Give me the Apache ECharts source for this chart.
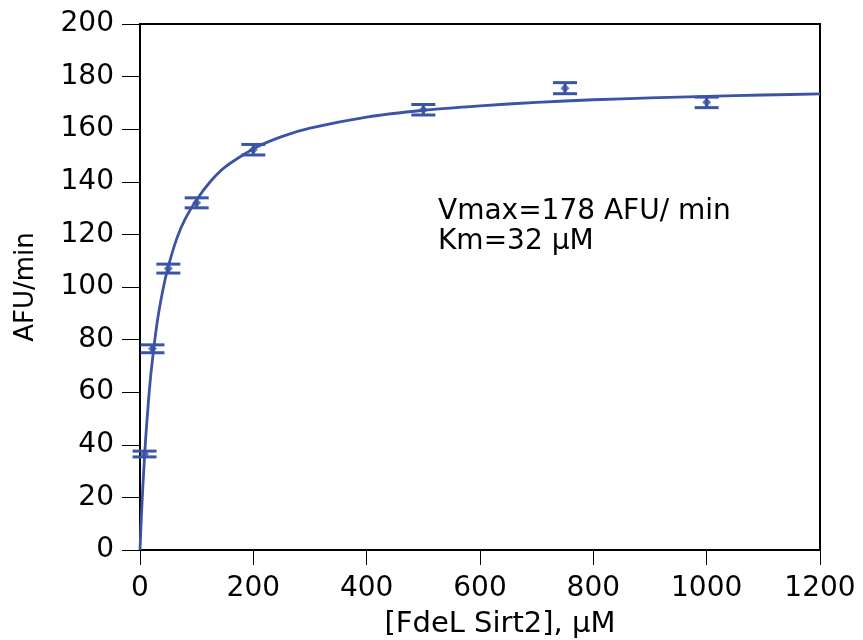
<!DOCTYPE html>
<html>
<head>
<meta charset="utf-8">
<script src="https://cdn.jsdelivr.net/npm/echarts@6/dist/echarts.min.js"></script>
<style>html,body{margin:0;padding:0;background:#fff;}#c{width:863px;height:640px;}</style>
</head>
<body>
<div id="c"></div>
<script>
// Measured points
const concentrations = [8, 22, 50, 100, 200, 500, 750, 1000];
const rates = [36.5, 76.5, 107, 132, 152.2, 167.4, 175.6, 170.2];
const errors = [1.1, 1.5, 1.7, 1.9, 2.0, 2.0, 2.1, 2.0];
// Fitted curve
const fitX = [0, 2, 5, 10, 15, 20, 30, 40, 50, 65, 80, 100, 125, 150, 200, 250, 300, 400, 500, 600, 700, 800, 900, 1000, 1100, 1200];
const fitY = [0, 10.5, 24.1, 42.4, 56.8, 68.5, 86.1, 98.5, 107.8, 118.5, 126.0, 133.2, 140.3, 145.6, 152.6, 157.2, 160.4, 164.6, 167.2, 168.9, 170.2, 171.2, 171.9, 172.5, 173.0, 173.4];
// Axis ticks
const xTicks = [0, 200, 400, 600, 800, 1000, 1200];
const yTicks = [0, 20, 40, 60, 80, 100, 120, 140, 160, 180, 200];
const annotation = ['Vmax=178 AFU/ min', 'Km=32 µM'];

const blue = '#3b54a5';
const font = 'DejaVu Sans, Liberation Sans, Arial, sans-serif';

const chart = echarts.init(document.getElementById('c'), null, {renderer: 'canvas'});
chart.setOption({
  animation: false,
  backgroundColor: '#fff',
  grid: {left: 140, right: 43, top: 24, bottom: 90, containLabel: false, outerBoundsMode: 'none', show: true, borderColor: '#000', borderWidth: 2, backgroundColor: 'transparent'},
  xAxis: {
    type: 'value', min: xTicks[0], max: xTicks[xTicks.length - 1], interval: xTicks[1] - xTicks[0],
    name: '[FdeL Sirt2], µM', nameLocation: 'middle', nameGap: 60,
    nameTextStyle: {fontFamily: font, fontSize: 29, color: '#000', padding: [0, 0, 0, 40]},
    axisLine: {lineStyle: {color: '#000', width: 2}},
    axisTick: {show: true, inside: false, length: 15, lineStyle: {color: '#000', width: 1}},
    axisLabel: {fontFamily: font, fontSize: 28, color: '#000', margin: 25, formatter: v => String(v)},
    splitLine: {show: false}
  },
  yAxis: {
    type: 'value', min: yTicks[0], max: yTicks[yTicks.length - 1], interval: yTicks[1] - yTicks[0],
    name: 'AFU/min', nameLocation: 'middle', nameGap: 101, nameRotate: 90,
    nameTextStyle: {fontFamily: font, fontSize: 26, color: '#000'},
    axisLine: {lineStyle: {color: '#000', width: 2}},
    axisTick: {show: true, inside: false, length: 18, lineStyle: {color: '#000', width: 1}},
    axisLabel: {fontFamily: font, fontSize: 28, color: '#000', margin: 26, formatter: v => String(v)},
    splitLine: {show: false}
  },
  graphic: [
    {type: 'text', left: 438, top: 198, style: {text: annotation[0], font: '28px ' + font, fill: '#000'}},
    {type: 'text', left: 438, top: 228, style: {text: annotation[1], font: '28px ' + font, fill: '#000'}}
  ],
  series: [
    {
      type: 'line', data: fitX.map((x, i) => [x, fitY[i]]), smooth: 0.2, showSymbol: false,
      lineStyle: {color: blue, width: 2.8}, z: 2
    },
    {
      type: 'custom', z: 3,
      data: concentrations.map((x, i) => [x, rates[i] - errors[i], rates[i] + errors[i]]),
      renderItem: function (params, api) {
        const lo = api.coord([api.value(0), api.value(1)]);
        const hi = api.coord([api.value(0), api.value(2)]);
        const hw = 12;
        const st = {stroke: blue, lineWidth: 3};
        return {type: 'group', children: [
          {type: 'line', shape: {x1: lo[0], y1: lo[1], x2: hi[0], y2: hi[1]}, style: st},
          {type: 'line', shape: {x1: lo[0] - hw, y1: lo[1], x2: lo[0] + hw, y2: lo[1]}, style: st},
          {type: 'line', shape: {x1: hi[0] - hw, y1: hi[1], x2: hi[0] + hw, y2: hi[1]}, style: st}
        ]};
      }
    },
    {
      type: 'scatter', z: 4, data: concentrations.map((x, i) => [x, rates[i]]),
      symbol: 'diamond', symbolSize: 9, itemStyle: {color: blue}
    }
  ]
});
</script>
</body>
</html>
